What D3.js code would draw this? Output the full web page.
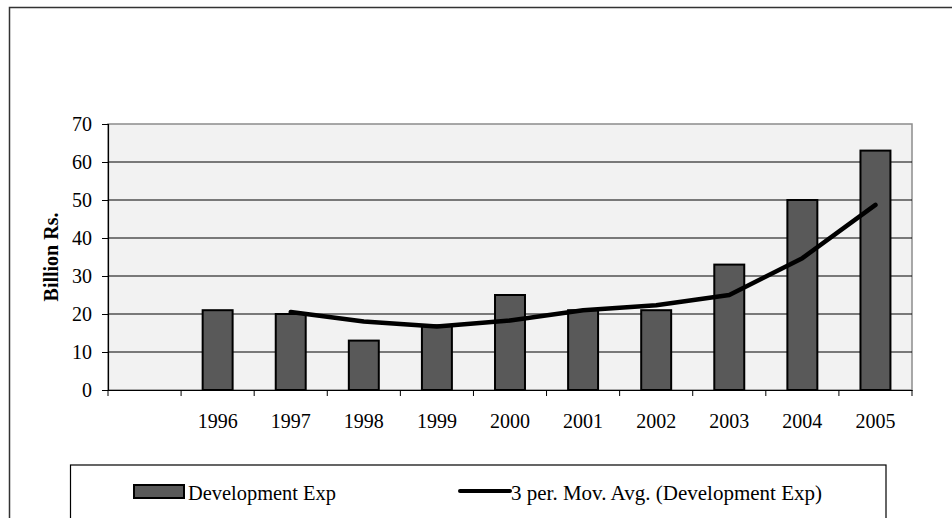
<!DOCTYPE html>
<html><head><meta charset="utf-8">
<script src="https://cdn.jsdelivr.net/npm/d3@7"></script>
<style>html,body{margin:0;padding:0;background:#fff;}svg{display:block;}</style>
</head><body>
<script>
const categories = ["", "1996", "1997", "1998", "1999", "2000", "2001", "2002", "2003", "2004", "2005"];
const devExp = [null, 21, 20, 13, 17, 25, 21, 21, 33, 50, 63];
const movAvg = [null, null, 20.5, 18, 16.7, 18.3, 21, 22.3, 25, 34.7, 48.7];
const yTicks = [0, 10, 20, 30, 40, 50, 60, 70];
const seriesNames = ["Development Exp", "3 per. Mov. Avg. (Development Exp)"];

const W = 952, H = 518;
const svg = d3.select("body").append("svg").attr("width", W).attr("height", H);
const font = "'Liberation Serif','Times New Roman',serif";

// outer frame
svg.append("rect").attr("x", 9.5).attr("y", 7.5).attr("width", 960).attr("height", 540)
  .attr("fill", "#fff").attr("stroke", "#333").attr("stroke-width", 1.5);

const L = 108, R = 912, T = 124, B = 390;
const x = d3.scaleBand().domain(categories.map((c, i) => i)).range([L, R]).paddingInner(0.59).paddingOuter(0.295);
const xc = d3.scaleBand().domain(categories.map((c, i) => i)).range([L, R]);
const y = d3.scaleLinear().domain([0, 70]).range([B, T]);

svg.append("rect").attr("x", L).attr("y", T).attr("width", R - L).attr("height", B - T)
  .attr("fill", "#f2f2f2").attr("stroke", "#8c8c8c").attr("stroke-width", 1.5);

// gridlines
svg.append("g").selectAll("line").data(yTicks.filter(v => v > 0 && v < 70)).join("line")
  .attr("x1", L).attr("x2", R).attr("y1", d => y(d)).attr("y2", d => y(d))
  .attr("stroke", "#000").attr("stroke-width", 1);

// bars
svg.append("g").selectAll("rect").data(devExp.map((v, i) => ({v, i})).filter(d => d.v != null)).join("rect")
  .attr("x", d => x(d.i)).attr("width", x.bandwidth())
  .attr("y", d => y(d.v)).attr("height", d => B - y(d.v))
  .attr("fill", "#595959").attr("stroke", "#000").attr("stroke-width", 2);

// y axis
const yAxis = svg.append("g").attr("transform", `translate(${L},0)`)
  .call(d3.axisLeft(y).tickValues(yTicks).tickSize(6).tickPadding(10));
yAxis.attr("font-family", font).attr("font-size", 20);
yAxis.select(".domain").attr("stroke", "#000").attr("stroke-width", 1.2);
yAxis.selectAll(".tick line").attr("stroke", "#000");
yAxis.selectAll("text").style("font-family", font).style("font-size", "20px").attr("fill", "#000");

// x axis
const xAxis = svg.append("g").attr("transform", `translate(0,${B})`)
  .call(d3.axisBottom(xc).tickFormat(i => categories[i]).tickSize(0).tickPadding(24));
xAxis.attr("font-family", font).attr("font-size", 20);
xAxis.select(".domain").attr("stroke", "#000").attr("stroke-width", 1.2);
xAxis.selectAll("text").style("font-family", font).style("font-size", "20px").attr("fill", "#000");
svg.append("g").selectAll("line").data(d3.range(categories.length + 1)).join("line")
  .attr("x1", i => L + i * xc.step()).attr("x2", i => L + i * xc.step())
  .attr("y1", B).attr("y2", B + 6).attr("stroke", "#000").attr("stroke-width", 1);

// moving average line
const line = d3.line().defined(d => d.v != null)
  .x(d => xc(d.i) + xc.bandwidth() / 2).y(d => y(d.v));
svg.append("path").datum(movAvg.map((v, i) => ({v, i})))
  .attr("d", line).attr("fill", "none").attr("stroke", "#000").attr("stroke-width", 4.5)
  .attr("stroke-linecap", "round").attr("stroke-linejoin", "round");

// y title
svg.append("text").attr("transform", `translate(51,${(T + B) / 2}) rotate(-90)`)
  .attr("text-anchor", "middle").attr("dominant-baseline", "central")
  .style("font-family", font).attr("font-weight", "bold").style("font-size", "20px")
  .text("Billion Rs.");

// legend
svg.append("rect").attr("x", 70.5).attr("y", 465).attr("width", 815.5).attr("height", 80)
  .attr("fill", "#fff").attr("stroke", "#000").attr("stroke-width", 1.2);
svg.append("rect").attr("x", 134).attr("y", 485).attr("width", 50).attr("height", 13)
  .attr("fill", "#595959").attr("stroke", "#000").attr("stroke-width", 2);
svg.append("text").attr("x", 188).attr("y", 500).style("font-family", font).style("font-size", "22px")
  .attr("textLength", 148).attr("lengthAdjust", "spacingAndGlyphs").text(seriesNames[0]);
svg.append("line").attr("x1", 460).attr("x2", 510).attr("y1", 491).attr("y2", 491)
  .attr("stroke", "#000").attr("stroke-width", 4).attr("stroke-linecap", "round");
svg.append("text").attr("x", 511).attr("y", 500).style("font-family", font).style("font-size", "22px")
  .attr("textLength", 311).attr("lengthAdjust", "spacingAndGlyphs").text(seriesNames[1]);
</script>
</body></html>
